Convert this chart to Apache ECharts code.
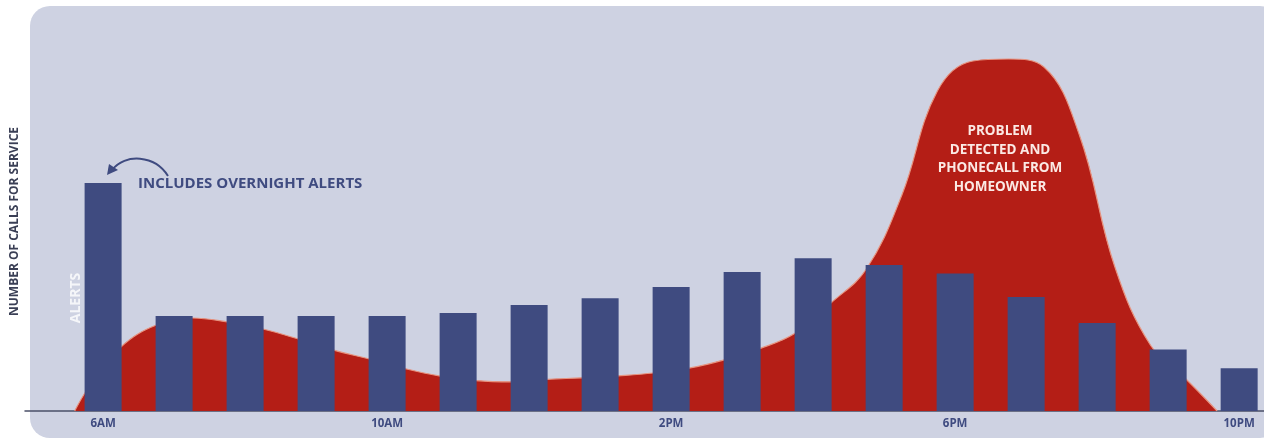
<!DOCTYPE html>
<html>
<head>
<meta charset="utf-8">
<script src="https://cdn.jsdelivr.net/npm/echarts@6/dist/echarts.min.js"></script>
<style>
  html, body { margin: 0; padding: 0; background: #fff; }
  #chart { width: 1264px; height: 442px; }
</style>
</head>
<body>
<div id="chart"></div>
<script>
// hourly alerts (bars), 6AM .. 10PM
const hours = [6, 7, 8, 9, 10, 11, 12, 13, 14, 15, 16, 17, 18, 19, 20, 21, 22]
const alerts = [57, 23.75, 23.75, 23.75, 23.75, 24.5, 26.5, 28.2, 31, 34.75, 38.2, 36.5, 34.4, 28.5, 22, 15.4, 10.7]

// phone calls curve (red area)
const callHours = [5.6, 5.8, 6.25, 6.75, 7.25, 7.75, 8.25, 8.75, 9.25, 9.75, 10.25, 10.75, 11.25, 11.75, 12.25, 12.75, 13.25, 13.75, 14.25, 14.75, 15.25, 15.75, 16.25, 16.75, 17.25, 17.75, 18.25, 18.75, 19.25, 19.75, 20.25, 20.75, 21.25, 21.69]
const calls = [0, 6, 16, 21.5, 23.25, 22.25, 20.5, 18, 15.2, 13, 10.6, 8.7, 7.6, 7.3, 7.9, 8.3, 8.8, 9.5, 10.7, 12.8, 15.6, 19.5, 27, 35.5, 54, 80, 87.5, 88, 86, 69, 36, 16.5, 8, 0]

// x axis labels
const labelHours = [6, 10, 14, 18, 22]
const tickLabels = ['6AM', '10AM', '2PM', '6PM', '10PM']

const BLUE = '#3f4b80'
const RED = '#b41e16'
const FONT = '"Open Sans", "DejaVu Sans", sans-serif'

let chart = echarts.init(document.getElementById('chart'))
chart.setOption({
  animation: false,
  textStyle: { fontFamily: FONT },
  grid: { left: 25, right: 0, top: 32, bottom: 31 },
  graphic: [
    {
      type: 'rect',
      z: -10,
      silent: true,
      shape: { x: 30, y: 6, width: 1250, height: 432, r: 20 },
      style: { fill: '#ced2e2' }
    },
    {
      type: 'text',
      left: 138,
      top: 176,
      z: 10,
      style: { text: 'INCLUDES OVERNIGHT ALERTS', fill: BLUE, font: 'bold 15px ' + FONT }
    },
    {
      type: 'bezierCurve',
      z: 10,
      shape: { x1: 168, y1: 176, x2: 112, y2: 170, cpx1: 155, cpy1: 155, cpx2: 125, cpy2: 153 },
      style: { stroke: BLUE, lineWidth: 2, fill: null }
    },
    {
      type: 'polygon',
      z: 10,
      shape: { points: [[107, 175], [109, 164], [118, 170]] },
      style: { fill: BLUE }
    },
    {
      type: 'text',
      x: 76,
      y: 298,
      rotation: Math.PI / 2,
      z: 10,
      style: { text: 'ALERTS', fill: 'rgba(255,255,255,0.8)', font: 'bold 14px ' + FONT, align: 'center', verticalAlign: 'middle' }
    },
    {
      type: 'text',
      x: 1000,
      y: 122,
      z: 10,
      style: {
        text: 'PROBLEM\nDETECTED AND\nPHONECALL FROM\nHOMEOWNER',
        fill: '#fbe9e4',
        font: 'bold 13.5px ' + FONT,
        align: 'center',
        lineHeight: 18.5
      }
    }
  ],
  xAxis: {
    type: 'value',
    min: 4.9,
    max: 22.35,
    axisLine: { show: true, lineStyle: { color: '#4b5068', width: 1.5 } },
    axisTick: { show: false },
    splitLine: { show: false },
    axisLabel: {
      customValues: labelHours,
      formatter: (v) => tickLabels[labelHours.indexOf(v)],
      color: BLUE,
      fontWeight: 'bold',
      fontSize: 11.5,
      margin: 7
    }
  },
  yAxis: {
    type: 'value',
    min: 0,
    max: 94.75,
    name: 'NUMBER OF CALLS FOR SERVICE',
    nameLocation: 'middle',
    nameRotate: 90,
    nameGap: 4,
    nameTextStyle: { color: '#3a3f55', fontWeight: 'bold', fontSize: 12 },
    axisLine: { show: false },
    axisTick: { show: false },
    axisLabel: { show: false },
    splitLine: { show: false }
  },
  series: [
    {
      name: 'calls',
      type: 'line',
      z: 2,
      smooth: 0.4,
      symbol: 'none',
      data: callHours.map((h, i) => [h, calls[i]]),
      lineStyle: { color: '#e7937f', width: 1.2 },
      areaStyle: { color: RED, opacity: 1 }
    },
    {
      name: 'alerts',
      type: 'bar',
      z: 3,
      barWidth: 37,
      data: hours.map((h, i) => [h, alerts[i]]),
      itemStyle: { color: BLUE }
    }
  ]
})
</script>
</body>
</html>
